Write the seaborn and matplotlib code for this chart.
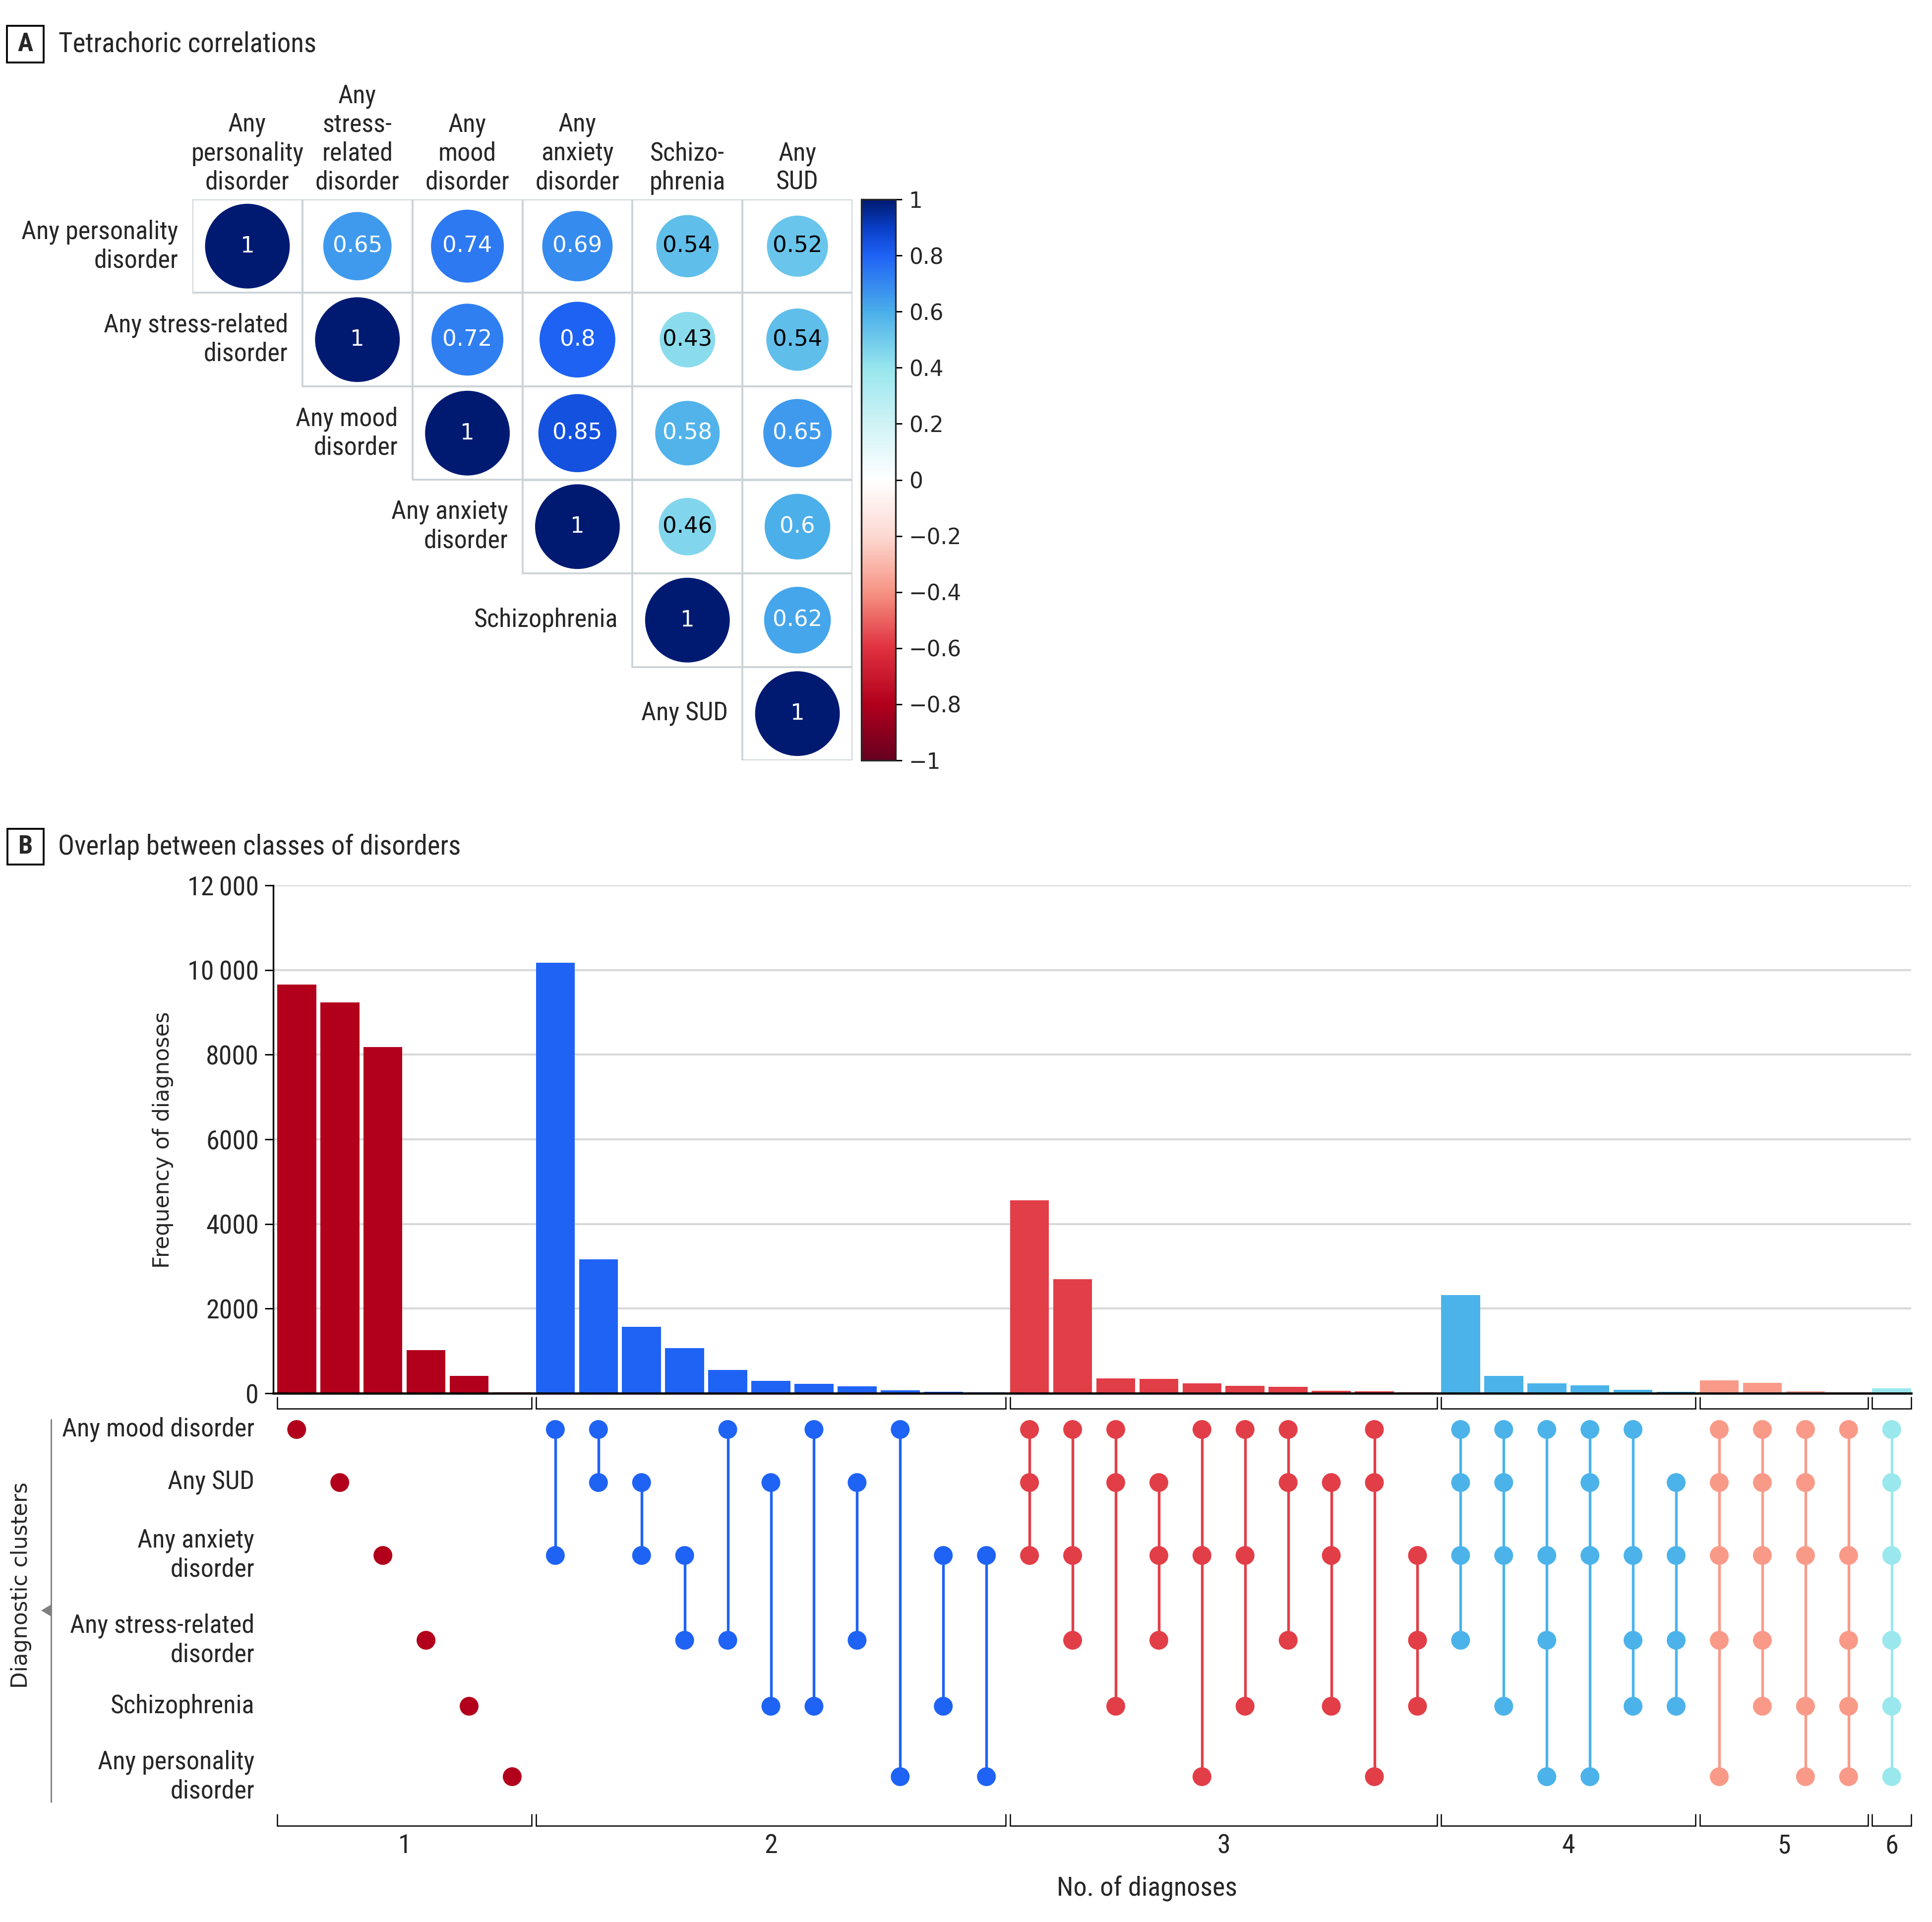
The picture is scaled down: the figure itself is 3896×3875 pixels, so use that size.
import numpy as np
import pandas as pd
import matplotlib
matplotlib.use("Agg")
import matplotlib.pyplot as plt
import seaborn as sns
from matplotlib.colors import LinearSegmentedColormap, Normalize
from matplotlib.cm import ScalarMappable
from matplotlib.patches import Rectangle, Polygon

sns.set_theme(style="white")
NARROW = ["Roboto Condensed", "Liberation Sans Narrow", "Liberation Sans", "DejaVu Sans"]
WIDE = ["DejaVu Sans"]
plt.rcParams["font.family"] = NARROW

# ---------------- data ----------------
# panel A: tetrachoric correlations (upper triangle, row by row)
COL_LABELS = ["Any\npersonality\ndisorder", "Any\nstress-\nrelated\ndisorder", "Any\nmood\ndisorder",
              "Any\nanxiety\ndisorder", "Schizo-\nphrenia", "Any\nSUD"]
ROW_LABELS = ["Any personality\ndisorder", "Any stress-related\ndisorder", "Any mood\ndisorder",
              "Any anxiety\ndisorder", "Schizophrenia", "Any SUD"]
CORR_UPPER = [
    [1, 0.65, 0.74, 0.69, 0.54, 0.52],
    [1, 0.72, 0.8, 0.43, 0.54],
    [1, 0.85, 0.58, 0.65],
    [1, 0.46, 0.6],
    [1, 0.62],
    [1],
]
CB_TICKS = [1, 0.8, 0.6, 0.4, 0.2, 0, -0.2, -0.4, -0.6, -0.8, -1]

# panel B: upset plot; sets index: 0 mood, 1 SUD, 2 anxiety, 3 stress, 4 schizo, 5 personality
SET_LABELS = ["Any mood disorder", "Any SUD", "Any anxiety\ndisorder",
              "Any stress-related\ndisorder", "Schizophrenia", "Any personality\ndisorder"]
COMBOS = [
    (0,), (1,), (2,), (3,), (4,), (5,),
    (0, 2), (0, 1), (1, 2), (2, 3), (0, 3), (1, 4), (0, 4), (1, 3), (0, 5), (2, 4), (2, 5),
    (0, 1, 2), (0, 2, 3), (0, 1, 4), (1, 2, 3), (0, 2, 5), (0, 2, 4), (0, 1, 3), (1, 2, 4),
    (0, 1, 5), (2, 3, 4),
    (0, 1, 2, 3), (0, 1, 2, 4), (0, 2, 3, 5), (0, 1, 2, 5), (0, 2, 3, 4), (1, 2, 3, 4),
    (0, 1, 2, 3, 5), (0, 1, 2, 3, 4), (0, 1, 2, 4, 5), (0, 2, 3, 4, 5),
    (0, 1, 2, 3, 4, 5),
]
COUNTS = [
    9660, 9230, 8180, 1015, 412, 27,
    10170, 3160, 1570, 1066, 554, 289, 226, 164, 70, 35, 23,
    4560, 2695, 350, 342, 238, 176, 156, 62, 51, 23,
    2320, 414, 238, 187, 82, 39,
    301, 250, 51, 23,
    113,
]
Y_TICKS = [0, 2000, 4000, 6000, 8000, 10000, 12000]
Y_TICK_LABELS = ["0", "2000", "4000", "6000", "8000", "10\u2009000", "12\u2009000"]
GROUP_COLORS = {1: "#B2001C", 2: "#1F63F5", 3: "#E23E47", 4: "#4BB3EA", 5: "#F99A88", 6: "#9AE8EE"}

CMAP = LinearSegmentedColormap.from_list("corr", [
    (0.0, "#67001F"), (0.1, "#B2001C"), (0.2, "#E0323F"), (0.3, "#F69484"), (0.4, "#FCD9D1"),
    (0.5, "#FFFFFF"), (0.6, "#CFF3F6"), (0.7, "#98E6EE"), (0.8, "#4BAFEA"), (0.9, "#1F63F5"),
    (0.95, "#0A3FC8"), (1.0, "#001A72")])

LABEL_FS = 12.5
LINESP = 1.2

# ---------------- layout helpers (pixel coords of the 3896x3875 canvas) ----------------
W, H, DPI = 3896, 3875, 300
fig = plt.figure(figsize=(W / DPI, H / DPI), dpi=DPI)
fig.patch.set_facecolor("white")


def fx(x):
    return x / W


def fy(y):
    return 1 - y / H


def box(x0, y0, x1, y1):
    return [fx(x0), fy(y1), (x1 - x0) / W, (y1 - y0) / H]


def panel_tag(letter, title, x0, y0, x1, y1, tx):
    fig.patches.append(Rectangle((fx(x0), fy(y1)), (x1 - x0) / W, (y1 - y0) / H,
                                 transform=fig.transFigure, fill=False, ec="black", lw=0.9))
    yc = (y0 + y1) / 2
    fig.text(fx((x0 + x1) / 2), fy(yc), letter, ha="center", va="center", fontsize=12.5, weight="bold")
    fig.text(fx(tx), fy(yc), title, ha="left", va="center", fontsize=13.2)


# ---------------- panel A ----------------
panel_tag("A", "Tetrachoric correlations", 14, 52, 88, 126, 118)

n = len(COL_LABELS)
cells = pd.DataFrame([{"row": i, "col": i + k, "r": r}
                      for i, vals in enumerate(CORR_UPPER) for k, r in enumerate(vals)])
cells["xc"] = cells["col"] + 0.5
cells["yc"] = cells["row"] + 0.5

ax_a = fig.add_axes(box(388, 402, 1719, 1533))
for _, c in cells.iterrows():
    ax_a.add_patch(Rectangle((c["col"], c["row"]), 1, 1, fill=False, ec="#CCD3D6", lw=0.9, zorder=0))
sns.scatterplot(data=cells, x="xc", y="yc", hue="r", size="r", palette=CMAP, hue_norm=(-1, 1),
                sizes=(0, 41 ** 2), size_norm=(0, 1), linewidth=0, legend=False, ax=ax_a, zorder=2)
for _, c in cells.iterrows():
    ax_a.text(c["xc"], c["yc"], f"{c['r']:g}", ha="center", va="center", fontsize=10.8,
              family=WIDE, color="black" if c["r"] < 0.56 else "white", zorder=3)
for j, lab in enumerate(COL_LABELS):
    ax_a.text(j + 0.5, -0.05, lab, ha="center", va="bottom", multialignment="center",
              fontsize=LABEL_FS, linespacing=LINESP)
for i, lab in enumerate(ROW_LABELS):
    ax_a.text(i - 0.13, i + 0.5, lab, ha="right", va="center", multialignment="right",
              fontsize=LABEL_FS, linespacing=LINESP)
ax_a.set_xlim(0, n)
ax_a.set_ylim(n, 0)
ax_a.axis("off")

cax = fig.add_axes(box(1737, 402, 1806, 1533))
cb = fig.colorbar(ScalarMappable(norm=Normalize(-1, 1), cmap=CMAP), cax=cax, ticks=CB_TICKS)
cb.ax.set_yticklabels([f"{t:g}".replace("-", "\u2212") for t in CB_TICKS], family=WIDE)
cb.outline.set_linewidth(0.8)
cax.tick_params(length=3, width=0.7, labelsize=10.5, pad=3.4, color="black")

# ---------------- panel B ----------------
panel_tag("B", "Overlap between classes of disorders", 15, 1671, 88, 1743, 117)

bars = pd.DataFrame({"pos": range(len(COMBOS)), "count": COUNTS, "k": [len(c) for c in COMBOS]})
XLIM = (-0.544, len(COMBOS) - 0.548)
HALF = 0.452

ax_b = fig.add_axes(box(551, 1785, 3854, 2809))
sns.barplot(data=bars, x="pos", y="count", hue="k", palette=GROUP_COLORS, dodge=False, width=0.904,
            saturation=1, linewidth=0, errorbar=None, legend=False, ax=ax_b)
ax_b.set_xlim(*XLIM)
ax_b.set_ylim(0, 12000)
ax_b.set_xticks([])
ax_b.set_yticks(Y_TICKS)
ax_b.set_yticklabels(Y_TICK_LABELS)
ax_b.set_xlabel("")
ax_b.set_ylabel("")
ax_b.yaxis.grid(True, color="#D9D9D9", lw=1.0)
ax_b.set_axisbelow(True)
for s in ("top", "right"):
    ax_b.spines[s].set_visible(False)
ax_b.spines["left"].set_linewidth(0.8)
ax_b.spines["bottom"].set_linewidth(1.1)
ax_b.spines["left"].set_color("black")
ax_b.spines["bottom"].set_color("black")
ax_b.tick_params(axis="y", left=True, length=4, width=0.7, labelsize=13, pad=2.9, color="black")
fig.text(fx(328), fy(2298), "Frequency of diagnoses", rotation=90, ha="center", va="center",
         fontsize=10.5, family=WIDE)

# matrix of dots; y expressed in canvas pixel rows
ROW_Y = [2882, 2989, 3136, 3307, 3440, 3582]
ax_m = fig.add_axes(box(551, 2809, 3854, 3760))

groups = bars.groupby("k")["pos"].agg(["min", "max"])


def brackets(y_top, y_bot):
    for k, g in groups.iterrows():
        x0, x1 = g["min"] - HALF, g["max"] + HALF
        ax_m.plot([x0, x0, x1, x1], [y_top, y_bot, y_bot, y_top], color="black", lw=0.6,
                  solid_joinstyle="miter", clip_on=False)


brackets(2817, 2840)
brackets(3658, 3681)
for k, g in groups.iterrows():
    ax_m.text((g["min"] + g["max"]) / 2, 3722, str(k), ha="center", va="center", fontsize=13)

dots = pd.DataFrame([{"pos": p, "y": ROW_Y[s], "k": len(c)} for p, c in enumerate(COMBOS) for s in c])
for p, c in enumerate(COMBOS):
    if len(c) > 1:
        ax_m.plot([p, p], [ROW_Y[min(c)], ROW_Y[max(c)]], color=GROUP_COLORS[len(c)], lw=1.3, zorder=1)
sns.scatterplot(data=dots, x="pos", y="y", hue="k", palette=GROUP_COLORS, s=83, linewidth=0,
                legend=False, ax=ax_m, zorder=2)
ax_m.set_xlim(*XLIM)
ax_m.set_ylim(3760, 2809)
ax_m.axis("off")

for lab, y in zip(SET_LABELS, ROW_Y):
    fig.text(fx(513), fy(y), lab, ha="right", va="center", multialignment="right",
             fontsize=LABEL_FS, linespacing=LINESP)

fig.add_artist(plt.Line2D([fx(103), fx(103)], [fy(2862), fy(3633)], color="#808080", lw=0.7))
fig.patches.append(Polygon([(fx(83), fy(3247)), (fx(103), fy(3235)), (fx(103), fy(3259))],
                           closed=True, transform=fig.transFigure, fc="#808080", ec="none"))
fig.text(fx(43), fy(3196), "Diagnostic clusters", rotation=90, ha="center", va="center",
         fontsize=10.5, family=WIDE)
fig.text(fx(2313), fy(3808), "No. of diagnoses", ha="center", va="center", fontsize=13)

fig.savefig("out.png", dpi=DPI)
